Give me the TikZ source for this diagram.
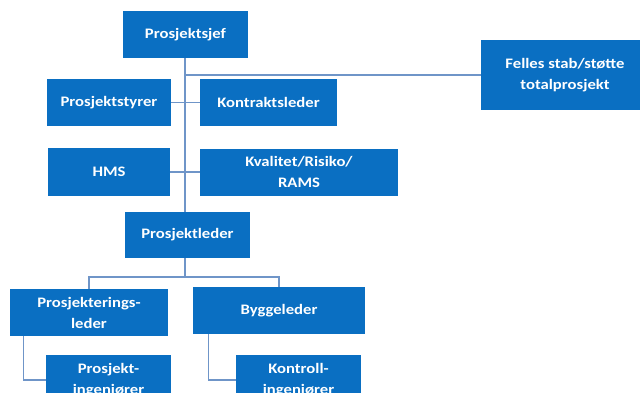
\documentclass[tikz,border=0pt]{standalone}
\usepackage{fontspec}
\setmainfont{Carlito}[FakeStretch=1.15]
\definecolor{orgblue}{HTML}{0A6FC2}
\definecolor{linkblue}{HTML}{6F95C8}
\tikzset{
  unit/.style={fill=orgblue, text=white, font=\bfseries\fontsize{14.5}{21}\selectfont,
    align=center, inner sep=0pt},
  link/.style={linkblue, line width=1.2pt}
}

\begin{document}
\begin{tikzpicture}[x=1pt,y=-1pt]
      \clip (0,0) rectangle (640,392);
      \useasboundingbox (0,0) rectangle (640,392);
      \node (sjef) at (185.5,34.5)[unit, minimum width=125pt, minimum height=47pt]{Prosjektsjef};
      \node (felles) at (565,75)[unit, minimum width=168pt, minimum height=70pt]{Felles stab/støtte\\totalprosjekt};
      \node (styrer) at (109,102.5)[unit, minimum width=124pt, minimum height=47pt]{Prosjektstyrer};
      \node (kontrakt) at (268.5,102.5)[unit, minimum width=137pt, minimum height=47pt]{Kontraktsleder};
      \node (hms) at (109,172)[unit, minimum width=122pt, minimum height=48pt]{HMS};
      \node (kvalitet) at (299,172)[unit, minimum width=198pt, minimum height=47pt]{Kvalitet/Risiko/\\RAMS};
      \node (leder) at (187.5,235)[unit, minimum width=125pt, minimum height=46pt]{Prosjektleder};
      \node (prl) at (89,312.5)[unit, minimum width=158pt, minimum height=47pt]{Prosjekterings-\\leder};
      \node (bygg) at (279,310.5)[unit, minimum width=172pt, minimum height=47pt]{Byggeleder};
      \node (ping) at (108.5,380)[unit, minimum width=125pt, minimum height=50pt]{Prosjekt-\\ingeniører};
      \node (king) at (298.5,380)[unit, minimum width=125pt, minimum height=50pt]{Kontroll-\\ingeniører};
      \coordinate (split) at (185,277);

      \draw[link] (sjef.south -| split) -- (leder.north -| split);
      \draw[link] (felles.west -| split) -- (felles.west);
      \foreach \l/\r in {styrer/kontrakt, hms/kvalitet}{
      \draw[link] (\l.east) -- (\r.west);
      }
      \draw[link] (leder.south -| split) -- (split);
      \draw[link] (prl.north) |- (split) -| (bygg.north);
      \draw[link] ([xshift=14pt]prl.south west) |- (ping.west);
      \draw[link] ([xshift=16pt]bygg.south west) |- (king.west);
  \end{tikzpicture}
\end{document}
